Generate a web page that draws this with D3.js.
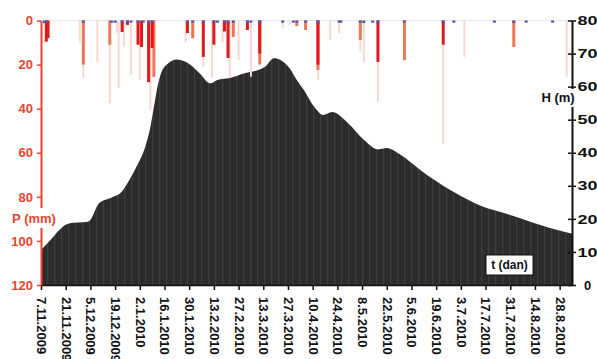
<!DOCTYPE html>
<html>
<head>
<meta charset="utf-8">
<script src="https://cdn.jsdelivr.net/npm/d3@7"></script>
<style>
  body { margin: 0; background: #fff; }
  svg { display: block; font-family: "Liberation Sans", Arial, sans-serif; font-weight: bold; }
</style>
</head>
<body>
<svg id="chart" width="597" height="359"></svg>
<script>
// water level H (m)
const hDates = ['7.11.2009', '13.11.2009', '19.11.2009', '25.11.2009', '1.12.2009', '4.12.2009', '10.12.2009',
  '17.12.2009', '22.12.2009', '26.12.2009', '31.12.2009', '5.1.2010', '8.1.2010', '10.1.2010', '12.1.2010',
  '14.1.2010', '18.1.2010', '23.1.2010', '31.1.2010', '5.2.2010', '11.2.2010', '15.2.2010', '22.2.2010',
  '2.3.2010', '10.3.2010', '14.3.2010', '19.3.2010', '23.3.2010', '28.3.2010', '1.4.2010', '5.4.2010',
  '11.4.2010', '16.4.2010', '21.4.2010', '30.4.2010', '9.5.2010', '17.5.2010', '22.5.2010', '30.5.2010',
  '10.6.2010', '27.6.2010', '16.7.2010', '26.7.2010', '4.8.2010', '13.8.2010', '31.8.2010', '4.9.2010'];
const hValues = [10.6, 14, 17.5, 18.8, 19, 19.2, 24.8,
  26.5, 27.8, 30.8, 35.7, 41.7, 47.8, 53.8, 59.9,
  64, 67, 68.2, 66.5, 64, 61, 62, 62.6,
  64, 65, 66, 68.6, 68, 65.5, 62, 59,
  53.8, 51.4, 52.3, 49, 43.9, 41, 41.4, 39.3,
  34.8, 28.7, 23.6, 22, 20.5, 18.8, 16, 15.5];

// precipitation P (mm), one list per gauge
const redDates = ['10.11.2009', '11.11.2009', '23.12.2009', '26.12.2009', '1.1.2010', '3.1.2010', '7.1.2010',
  '9.1.2010', '29.1.2010', '7.2.2010', '13.2.2010', '19.2.2010', '21.2.2010', '4.3.2010', '11.3.2010',
  '13.4.2010', '17.5.2010', '23.6.2010'];
const redValues = [9.6, 8, 5.2, 2, 11, 12, 28,
  12.5, 5.7, 16.5, 11, 5, 17, 4.3, 15,
  20, 18.8, 11];

const salmonDates = ['1.12.2009', '16.12.2009', '10.1.2010', '1.2.2010', '24.2.2010', '11.3.2010', '1.4.2010',
  '6.4.2010', '13.4.2010', '7.5.2010', '1.6.2010', '2.8.2010'];
const salmonValues = [20, 11, 25.6, 8, 7.5, 20, 2.5,
  4.3, 22.5, 8.8, 18, 12];

const pinkDates = ['29.11.2009', '1.12.2009', '9.12.2009', '16.12.2009', '20.12.2009', '21.12.2009', '24.12.2009',
  '28.12.2009', '2.1.2010', '8.1.2010', '28.1.2010', '7.2.2010', '12.2.2010', '18.2.2010', '22.2.2010',
  '27.2.2010', '6.3.2010', '24.3.2010', '28.3.2010', '13.4.2010', '20.4.2010', '25.4.2010', '7.5.2010',
  '9.5.2010', '17.5.2010', '23.6.2010', '5.7.2010', '1.9.2010'];
const pinkValues = [10, 26, 19, 37.5, 5.7, 30.6, 12,
  24.7, 27, 40.6, 10, 21, 25.6, 10, 26,
  18, 25.5, 3.5, 2, 27, 8.8, 5.7, 14,
  19, 37, 56, 16.5, 25.5];

const blueDates = ['9.11.2009', '10.11.2009', '1.12.2009', '17.12.2009', '19.12.2009', '23.12.2009', '26.12.2009',
  '28.12.2009', '1.1.2010', '4.1.2010', '7.1.2010', '9.1.2010', '29.1.2010', '1.2.2010', '7.2.2010',
  '13.2.2010', '15.2.2010', '19.2.2010', '21.2.2010', '24.2.2010', '4.3.2010', '6.3.2010', '11.3.2010',
  '24.3.2010', '30.3.2010', '1.4.2010', '6.4.2010', '13.4.2010', '25.4.2010', '26.4.2010', '7.5.2010',
  '9.5.2010', '14.5.2010', '17.5.2010', '1.6.2010', '23.6.2010', '29.6.2010', '22.7.2010', '2.8.2010',
  '9.8.2010', '24.8.2010'];
const blueValues = [1.2, 1.2, 1, 1, 1, 1.2, 1, 1, 1.2, 1, 1.2, 1.2, 1, 1, 1.2,
  1, 1, 1, 1.2, 1, 1.2, 1, 1.4, 1, 1, 1, 1, 1.4, 1, 1, 1,
  1.2, 1, 1.5, 1, 1.4, 1, 1, 1.2, 1, 1];

const tickLabels = ['7.11.2009', '21.11.2009', '5.12.2009', '19.12.2009', '2.1.2010', '16.1.2010', '30.1.2010',
  '13.2.2010', '27.2.2010', '13.3.2010', '27.3.2010', '10.4.2010', '24.4.2010', '8.5.2010', '22.5.2010',
  '5.6.2010', '19.6.2010', '3.7.2010', '17.7.2010', '31.7.2010', '14.8.2010', '28.8.2010'];
const pTicks = [0, 20, 40, 60, 80, 100, 120];
const hTicks = [0, 10, 20, 30, 40, 50, 60, 70, 80];

const parse = d3.timeParse('%d.%m.%Y');
const fmt = d3.timeFormat('%-d.%-m.%Y');
const zip = (ds, vs) => ds.map((d, i) => ({ date: parse(d), value: vs[i] }));

const svg = d3.select('#chart');
const plotLeft = 41, plotRight = 572, plotTop = 20.5, plotBottom = 285;
const pColor = '#e8452c';

const x = d3.scaleTime().domain([parse('7.11.2009'), parse('4.9.2010')]).range([plotLeft, plotRight]);
const yP = d3.scaleLinear().domain([0, 120]).range([plotTop, plotBottom]);
const yH = d3.scaleLinear().domain([0, 80]).range([plotBottom, plotTop]);

// striped fill for the level area
const defs = svg.append('defs');
const pat = defs.append('pattern').attr('id', 'stripes')
  .attr('patternUnits', 'userSpaceOnUse').attr('width', 7).attr('height', 10);
pat.append('rect').attr('width', 7).attr('height', 10).attr('fill', '#2c2c2c');
pat.append('rect').attr('x', 5).attr('width', 1.2).attr('height', 10).attr('fill', '#3d3d3d');

const hData = zip(hDates, hValues);
const area = d3.area()
  .x(d => x(d.date))
  .y0(yH(0))
  .y1(d => yH(d.value))
  .curve(d3.curveMonotoneX);

svg.append('path')
  .datum(hData)
  .attr('d', area)
  .attr('fill', 'url(#stripes)');

// zero line of precipitation
svg.append('line')
  .attr('x1', plotLeft).attr('x2', plotRight).attr('y1', yP(0)).attr('y2', yP(0))
  .attr('stroke', '#e4e4ef').attr('stroke-width', 1);

function bars(data, color, w) {
  svg.append('g').selectAll('rect')
    .data(data).enter()
    .append('rect')
    .attr('x', d => x(d.date) - w / 2)
    .attr('y', yP(0))
    .attr('width', w)
    .attr('height', d => yP(d.value) - yP(0))
    .attr('fill', color);
}
bars(zip(pinkDates, pinkValues), '#f8d8cf', 2);
bars(zip(salmonDates, salmonValues), '#ee7558', 3);
bars(zip(redDates, redValues), '#e2191b', 3);
bars(zip(blueDates, blueValues), '#5a56a6', 3);

// x axis
const xAxis = svg.append('g')
  .attr('transform', `translate(0,${plotBottom})`)
  .call(d3.axisBottom(x)
    .tickValues(tickLabels.map(parse))
    .tickFormat(fmt)
    .tickSize(5)
    .tickSizeOuter(0));
xAxis.select('.domain').attr('stroke', '#111').attr('stroke-width', 1.5);
xAxis.selectAll('.tick line').attr('stroke', '#111').attr('stroke-width', 1.5);
xAxis.selectAll('text')
  .attr('transform', 'rotate(90)')
  .attr('x', 12)
  .attr('y', 0)
  .attr('dy', '0.35em')
  .style('text-anchor', 'start')
  .attr('fill', '#111')
  .style('font-size', '13px');

// left axis P (mm)
const pAxis = svg.append('g')
  .attr('transform', `translate(${plotLeft},0)`)
  .call(d3.axisLeft(yP).tickValues(pTicks).tickSize(4).tickPadding(4).tickSizeOuter(0));
pAxis.select('.domain').attr('stroke', pColor).attr('stroke-width', 2);
pAxis.selectAll('.tick line').attr('stroke', pColor).attr('stroke-width', 1.5);
pAxis.selectAll('text').attr('fill', pColor).style('font-size', '13px');

svg.append('rect').attr('x', 10).attr('y', 208).attr('width', 48).attr('height', 20).attr('fill', '#fff');
svg.append('text').attr('x', 34).attr('y', 222.5).attr('text-anchor', 'middle')
  .attr('fill', pColor).style('font-size', '13px').text('P (mm)');

// right axis H (m)
const hAxis = svg.append('g')
  .attr('transform', `translate(${plotRight},0)`)
  .call(d3.axisRight(yH).tickValues(hTicks).tickSize(4).tickPadding(3).tickSizeOuter(0));
hAxis.select('.domain').attr('stroke', '#111').attr('stroke-width', 2);
hAxis.selectAll('.tick line').attr('x1', -4).attr('stroke', '#111').attr('stroke-width', 1.5);
hAxis.selectAll('text')
  .attr('x', 15.5)
  .style('text-anchor', 'middle')
  .attr('fill', '#111')
  .style('font-size', '13px')
  .each(function (d) {
    if (d >= 10) d3.select(this).attr('textLength', 20).attr('lengthAdjust', 'spacingAndGlyphs');
  });

svg.append('rect').attr('x', 539).attr('y', 89).attr('width', 40).attr('height', 18).attr('fill', '#fff');
svg.append('text').attr('x', 558).attr('y', 102).attr('text-anchor', 'middle')
  .attr('fill', '#111').style('font-size', '13px').text('H (m)');

// time label box
svg.append('rect').attr('x', 486).attr('y', 255).attr('width', 47).attr('height', 20)
  .attr('fill', '#fff').attr('stroke', '#111').attr('stroke-width', 1);
svg.append('text').attr('x', 509.5).attr('y', 269).attr('text-anchor', 'middle')
  .attr('fill', '#111').style('font-size', '12px').text('t (dan)');
</script>
</body>
</html>
